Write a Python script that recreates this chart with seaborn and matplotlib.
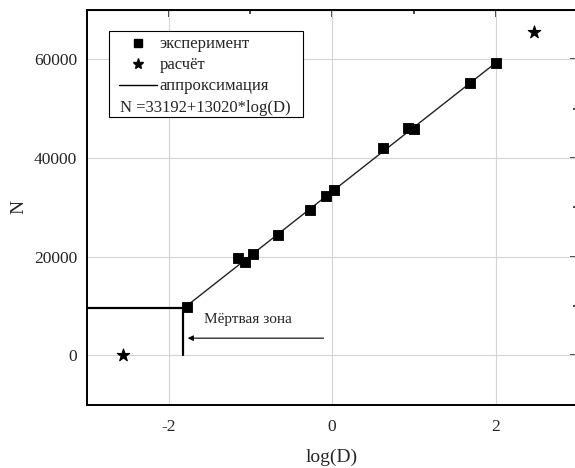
import numpy as np
import pandas as pd
import seaborn as sns
import matplotlib.pyplot as plt
from matplotlib.ticker import MultipleLocator
from matplotlib.lines import Line2D
from matplotlib.patches import Rectangle

sns.set_style("white")
plt.rcParams["font.family"] = ["Liberation Serif", "DejaVu Serif"]
plt.rcParams["axes.unicode_minus"] = False

# данные: эксперимент
exp_logd = [-1.77, -1.15, -1.06, -0.97, -0.66, -0.27, -0.07, 0.02, 0.62, 0.93, 1.00, 1.69, 2.00]
exp_n = [9900, 19650, 18900, 20450, 24300, 29550, 32250, 33600, 41950, 46100, 45800, 55100, 59200]

# расчёт
calc_logd = [-2.56, 2.47]
calc_n = [0, 65500]

# аппроксимация N = a + b*log(D)
a, b = 33192, 13020
fit_logd = [-1.8, 2.0]
fit_n = [a + b * x for x in fit_logd]

# мёртвая зона
dz_x = -1.82
dz_y = 9600

df_exp = pd.DataFrame({"logD": exp_logd, "N": exp_n})
df_calc = pd.DataFrame({"logD": calc_logd, "N": calc_n})
df_fit = pd.DataFrame({"logD": fit_logd, "N": fit_n})

fig = plt.figure(figsize=(5.75, 4.68), dpi=100)
ax = fig.add_axes([0.151, 0.135, 0.853, 0.844])

ax.grid(True, which="major", color="#d4d4d4", linewidth=0.8)

sns.lineplot(data=df_fit, x="logD", y="N", color="#222222", linewidth=1.0, ax=ax)
sns.scatterplot(data=df_exp, x="logD", y="N", marker="s", s=60, color="black",
                edgecolor="black", ax=ax, zorder=3)
sns.scatterplot(data=df_calc, x="logD", y="N", marker="*", s=90, color="black",
                edgecolor="black", ax=ax, zorder=3)

# мёртвая зона
ax.plot([-3, dz_x], [dz_y, dz_y], color="black", linewidth=1.6)
ax.plot([dz_x, dz_x], [0, dz_y], color="black", linewidth=1.6)
ax.annotate("", xy=(dz_x + 0.02, 3500), xytext=(-0.07, 3500),
            arrowprops=dict(arrowstyle="-|>", color="black", lw=0.8,
                            mutation_scale=8))
ax.text(-1.57, 7300, "Мёртвая зона", fontsize=11, va="center", ha="left")

ax.set_xlim(-3, 3)
ax.set_ylim(-10000, 70000)
ax.xaxis.set_major_locator(MultipleLocator(2))
ax.xaxis.set_minor_locator(MultipleLocator(1))
ax.yaxis.set_major_locator(MultipleLocator(20000))
ax.yaxis.set_minor_locator(MultipleLocator(10000))
ax.tick_params(which="major", direction="out", length=5, width=1.2, labelsize=12.5,
               color="black", pad=2)
ax.tick_params(axis="x", which="major", pad=5.5)
ax.tick_params(which="minor", direction="out", length=3, width=1.2, color="black")
for s in ax.spines.values():
    s.set_color("black")
    s.set_linewidth(1.4)

# зеркальные оси (тики внутрь)
top = ax.secondary_xaxis("top")
top.xaxis.set_major_locator(MultipleLocator(2))
top.xaxis.set_minor_locator(MultipleLocator(1))
top.tick_params(which="major", direction="in", length=5, width=1.2, labeltop=False)
top.tick_params(which="minor", direction="in", length=3, width=1.2)
right = ax.secondary_yaxis("right")
right.yaxis.set_major_locator(MultipleLocator(20000))
right.yaxis.set_minor_locator(MultipleLocator(10000))
right.tick_params(which="major", direction="in", length=5, width=1.2, labelright=False)
right.tick_params(which="minor", direction="in", length=3, width=1.2)

ax.set_xlabel("log(D)", fontsize=14, labelpad=9.5)
ax.set_ylabel("N", fontsize=14, labelpad=4.5)

# легенда: три записи + формула в общей рамке
handles = [
    Line2D([], [], marker="s", color="black", linestyle="none", markersize=6),
    Line2D([], [], marker="*", color="black", linestyle="none", markersize=8),
    Line2D([], [], color="black", linewidth=1.0),
]
labels = ["эксперимент", "расчёт", "аппроксимация"]
leg = ax.legend(handles, labels, loc="upper left", bbox_to_anchor=(0.045, 0.958),
                fontsize=12, frameon=False, handlelength=2.3, handletextpad=0.15,
                borderpad=0.6, labelspacing=0.3, borderaxespad=0)
ax.text(0.067, 0.751, "N =33192+13020*log(D)", transform=ax.transAxes,
        fontsize=12, va="center", ha="left")
ax.add_patch(Rectangle((0.045, 0.728), 0.395, 0.219, transform=ax.transAxes,
                       fill=True, facecolor="white", edgecolor="black",
                       linewidth=0.8, zorder=4))
leg.set_zorder(5)
for t in ax.texts:
    t.set_zorder(6)

fig.savefig("out.png", dpi=100)
